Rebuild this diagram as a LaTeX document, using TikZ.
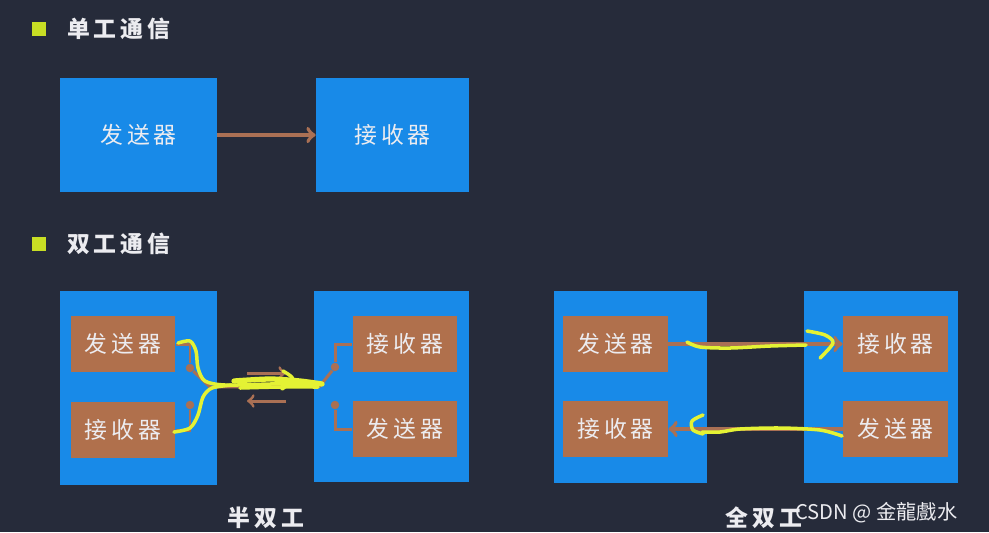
\documentclass[tikz,border=0pt]{standalone}
\usepackage{fontspec}
\newfontfamily\cjk{Noto Sans CJK SC}
\usepackage{tikz}
\usetikzlibrary{positioning}

\definecolor{slidebg}{RGB}{38,43,58}
\definecolor{slideblue}{RGB}{24,138,232}
\definecolor{unitbrown}{RGB}{176,112,76}
\definecolor{wirebrown}{RGB}{170,112,84}
\definecolor{bulletgreen}{RGB}{200,222,36}
\definecolor{penyellow}{RGB}{228,242,52}
\definecolor{txtgray}{RGB}{236,236,240}

\begin{document}
\begin{tikzpicture}[x=0.02cm,y=-0.02cm,
    panel/.style={rectangle, fill=slideblue, inner sep=0pt, text=txtgray, font=\cjk\fontsize{13}{15}\selectfont},
    unit/.style={rectangle, fill=unitbrown, inner sep=0pt, minimum width=2.1cm, minimum height=1.12cm, text=txtgray, font=\cjk\fontsize{13}{15}\selectfont},
    bullet/.style={rectangle, fill=bulletgreen, inner sep=0pt, minimum size=0.28cm},
    heading/.style={text=txtgray, font=\cjk\bfseries\fontsize{13}{15}\selectfont, inner sep=0pt},
    contact/.style={circle, fill=wirebrown, inner sep=0pt, minimum size=0.17cm},
    wire/.style={draw=wirebrown, line width=1.7pt},
    arrow/.style={draw=wirebrown, line width=2.2pt, ->},
    pen/.style={draw=penyellow, line width=2pt, line cap=round, line join=round}
    ]
    \fill[slidebg] (0,0) rectangle (989,532);
    \useasboundingbox (0,0) rectangle (989,532);

    % headings
    \node[bullet] (b1) at (39,29) {};
    \node[heading, anchor=west] (simplex) at (67,29) {单\,工\,通\,信};
    \node[bullet] (b2) at (39,244) {};
    \node[heading, anchor=west] (duplex) at (67,244) {双\,工\,通\,信};

    % simplex
    \node[panel, minimum width=3.14cm, minimum height=2.28cm] (ssend) at (138.5,135) {发\,送\,器};
    \node[panel, minimum width=3.06cm, minimum height=2.28cm] (srecv) at (392.5,135) {接\,收\,器};
    \draw[arrow] (ssend) -- (srecv);

    % half duplex
    \node[panel, minimum width=3.14cm, minimum height=3.88cm] (hleft) at (138.5,388) {};
    \node[panel, minimum width=3.1cm, minimum height=3.82cm] (hright) at (391.5,386.5) {};
    \node[unit] (hsend) at (123,344) {发\,送\,器};
    \node[unit] (hrecv) at (123,430) {接\,收\,器};
    \node[unit] (hrecvB) at (405,344) {接\,收\,器};
    \node[unit] (hsendB) at (405,429) {发\,送\,器};
    \node[contact] (lc1) at (190,368) {};
    \node[contact] (lc2) at (190,405) {};
    \node[contact] (rc1) at (335,367) {};
    \node[contact] (rc2) at (335,405) {};
    \coordinate (lj) at (210,387);
    \coordinate (rj) at (320,386);
    \draw[wire] (hsend.east) -| (lc1);
    \draw[wire] (hrecv.east) -| (lc2);
    \draw[wire] (lc1) -- (lj) -- (rj) -- (rc1);
    \draw[wire] (rc1) |- (hrecvB.west);
    \draw[wire] (rc2) |- (hsendB.west);
    % direction marks
    \coordinate (ta) at (247,373);
    \coordinate (tb) at (286,373);
    \coordinate (ba) at (286,401);
    \coordinate (bb) at (247,401);
    \draw[wire, ->] (ta) -- (tb);
    \draw[wire, ->] (ba) -- (bb);
    \node[heading] (half) at (266,518) {半\,双\,工};

    % full duplex
    \node[panel, minimum width=3.06cm, minimum height=3.84cm] (fleft) at (630.5,387) {};
    \node[panel, minimum width=3.08cm, minimum height=3.84cm] (fright) at (881,387) {};
    \node[unit] (fsend) at (615.5,344) {发\,送\,器};
    \node[unit] (frecv) at (615.5,429) {接\,收\,器};
    \node[unit] (frecvB) at (895.5,344) {接\,收\,器};
    \node[unit] (fsendB) at (895.5,429) {发\,送\,器};
    \draw[arrow] (fsend.east) -- (frecvB.west);
    \draw[arrow] (fsendB.west) -- (frecv.east);
    \node[heading] (full) at (764,518) {全\,双\,工};

    % hand-drawn marks
    \draw[pen] plot[smooth] coordinates {(178,343) (190,341) (196,351) (198,368) (205,381) (225,385) (270,384) (320,383)};
    \draw[pen] plot[smooth] coordinates {(174,432) (190,428) (198,415) (203,397) (212,388) (232,385)};
    \draw[pen, line width=3pt] plot[smooth] coordinates {(234,381) (270,379) (300,381) (322,384)};
    \draw[pen] plot[smooth] coordinates {(240,388) (280,387) (318,387)};
    \draw[pen] plot[smooth] coordinates {(283,371) (293,379) (282,389)};
    \draw[pen] plot[smooth] coordinates {(687,342) (700,347) (730,348) (770,346) (806,345)};
    \draw[pen] plot[smooth] coordinates {(807,331) (825,335) (833,343) (820,358)};
    \draw[pen] plot[smooth] coordinates {(842,436) (820,430) (780,428) (740,429) (720,432) (702,432)};
    \draw[pen] plot[smooth] coordinates {(703,415) (692,421) (693,430) (703,434)};

    % watermark
    \node[text=txtgray, font=\cjk\fontsize{11.5}{13}\selectfont, anchor=west, inner sep=0pt] (mark) at (795,513) {CSDN @ 金龍戲水};
\end{tikzpicture}
\end{document}
